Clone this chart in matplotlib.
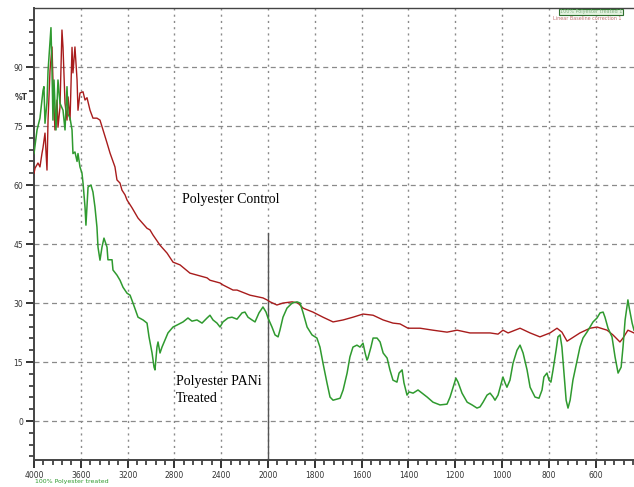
import matplotlib
matplotlib.use('Agg')
import matplotlib.pyplot as plt
import numpy as np
from matplotlib.ticker import FixedLocator, NullFormatter

# ===== 数据 (wavenumber cm-1, %T) =====
treated_wn = [4000, 3974, 3949, 3923, 3915, 3906, 3889, 3880, 3855, 3846, 3838, 3829, 3812, 3795,
              3778, 3752, 3735, 3718, 3709, 3692, 3675, 3667, 3650, 3632, 3624, 3607, 3590, 3581,
              3564, 3556, 3538, 3513, 3496, 3479, 3462, 3453, 3436, 3419, 3402, 3376, 3368, 3333,
              3325, 3291, 3265, 3239, 3205, 3179, 3154, 3111, 3068, 3034, 3017, 2991, 2974, 2966,
              2949, 2940, 2923, 2906, 2880, 2855, 2812, 2778, 2726, 2684, 2650, 2607, 2564, 2521,
              2496, 2470, 2436, 2410, 2385, 2342, 2308, 2265, 2222, 2197, 2171, 2137, 2111, 2077,
              2043, 2017, 2000, 1983, 1970, 1957, 1949, 1936, 1919, 1897, 1876, 1863, 1850, 1833,
              1812, 1791, 1778, 1765, 1748, 1735, 1722, 1692, 1679, 1662, 1650, 1637, 1620, 1607,
              1594, 1585, 1577, 1573, 1560, 1551, 1534, 1521, 1508, 1491, 1479, 1466, 1449, 1440,
              1427, 1419, 1406, 1397, 1380, 1359, 1342, 1320, 1295, 1265, 1235, 1222, 1209, 1197,
              1188, 1171, 1149, 1128, 1107, 1094, 1081, 1064, 1051, 1038, 1030, 1017, 1000, 996,
              987, 979, 966, 953, 936, 923, 910, 893, 880, 859, 842, 829, 821, 808, 799, 791, 782,
              769, 761, 752, 744, 735, 726, 718, 709, 697, 679, 667, 654, 637, 624, 611, 594, 581,
              568, 560, 547, 530, 517, 504, 491, 483, 474, 462, 457, 444, 436]
treated_t = [68, 74, 77, 84, 85, 75.7, 81, 89, 100, 89, 76.5, 86.7, 74, 86.7,
             80.8, 79, 74, 85, 78, 77, 74, 68, 68.4, 66, 68, 64.6, 63, 60.5,
             54.4, 49.8, 59.5, 60, 58.2, 54.4, 49.3, 44.2, 40.9, 44.2, 46.5, 44.2, 41, 41,
             38.4, 37.1, 35.8, 34, 32.5, 32, 30, 26.4, 25.7, 24.9, 21.4, 17.3, 13.7, 13,
             18.8, 20.1, 17.3, 18.8, 20.6, 22.4, 23.9, 24.4, 25.2, 26.2, 25.4, 25.7, 24.9, 26.2,
             26.9, 25.7, 24.9, 23.9, 25.2, 26.2, 26.4, 25.9, 27.5, 27.7, 26.4, 25.7, 25.2, 27.5,
             29, 27.7, 26.2, 23.9, 21.9, 21.4, 23.1, 26.4, 28.7, 30, 30.3, 30, 27.5, 23.9,
             21.9, 21.1, 18.8, 14.7, 9.7, 6.1, 5.3, 5.8, 7.9, 12.2, 16.3, 18.8, 19.3, 18.8,
             19.8, 17.3, 15.5, 16, 18.8, 21.1, 21.1, 20.1, 17.3, 16, 13, 10.4, 9.9, 12.2,
             13, 9.7, 6.6, 7.4, 7.1, 7.9, 7.1, 6.1, 4.8, 4.1, 4.3, 6.1, 8.6, 10.9,
             9.9, 7.1, 4.8, 4.1, 3.3, 3.6, 4.8, 6.6, 7.1, 6.1, 5.3, 6.6, 10.4, 11.2,
             9.7, 8.6, 10.4, 14.7, 18, 19.3, 17.3, 13, 8.6, 6.1, 5.8, 7.9, 11.2, 12.2, 10.4, 9.9, 13,
             18, 21.4, 21.9, 18.8, 12.2, 5.3, 3.3, 5.3, 10.4, 15.5, 18.8, 21.1, 22.6, 23.9, 25.2, 26.2, 27.5,
             27.7, 26.4, 23.6, 21.4, 16.3, 12.2, 13.7, 18.8, 25.7, 30.8, 29, 24.9, 23.1]

control_wn = [4000, 3991, 3966, 3949, 3932, 3923, 3906, 3889, 3880, 3863, 3846, 3838, 3821, 3803,
              3795, 3778, 3761, 3752, 3735, 3718, 3709, 3692, 3675, 3667, 3650, 3632, 3624, 3607,
              3581, 3564, 3547, 3521, 3496, 3462, 3436, 3410, 3376, 3350, 3308, 3291, 3265, 3248,
              3222, 3205, 3162, 3111, 3034, 3009, 2983, 2923, 2863, 2812, 2752, 2667, 2521, 2496,
              2410, 2385, 2299, 2265, 2154, 2043, 2009, 1991, 1962, 1936, 1897, 1872, 1850, 1808,
              1765, 1722, 1679, 1637, 1594, 1551, 1508, 1466, 1436, 1402, 1350, 1295, 1235, 1192,
              1137, 1081, 1051, 1017, 996, 974, 923, 880, 838, 795, 765, 744, 722, 701, 667, 624,
              594, 551, 526, 496, 483, 462, 436]
control_t = [63, 64.3, 65.6, 64.6, 68, 69.5, 73.2, 63.8, 76.5, 89.2, 95.1, 86.7, 74, 81.6,
             74.7, 79.8, 99.4, 95, 80.8, 76.5, 82.4, 76.5, 95, 88.5, 95.1, 86.7, 79, 83.4,
             83.7, 81.6, 82.2, 79, 77, 77, 76.5, 74, 70.7, 68.1, 64.6, 61.3, 60.5, 58.7,
             57.5, 56.2, 54.2, 51.6, 49, 48.6, 47.3, 44.7, 42.7, 40.4, 39.7, 37.6, 36.4, 35.8,
             35.1, 34.6, 33.3, 33.3, 32, 31.3, 30.8, 30.3, 29.5, 30, 30.3, 30, 28.7, 27.7,
             26.4, 25.2, 25.7, 26.4, 27.2, 26.9, 25.7, 24.9, 24.7, 23.6, 23.6, 23.1, 22.6, 23.1,
             22.4, 22.4, 22.4, 22.1, 23.1, 22.4, 23.6, 22.4, 21.4, 22.4, 23.6, 22.6, 20.3, 21.1, 22.4, 23.6,
             23.9, 23.1, 21.9, 20.1, 21.1, 23.1, 22.4]

x_major = [4000, 3600, 3200, 2800, 2400, 2000, 1800, 1600, 1400, 1200, 1000, 800, 600]
y_major = [0, 15, 30, 45, 60, 75, 90]

GREEN = '#2f9a2f'
RED = '#a81c1c'
GRID_C = '#8a8a8a'


# FTIR x-axis: half scale above 2000 cm-1
def fwd(w):
    w = np.asarray(w, dtype=float)
    return np.where(w >= 2000, (w - 4000) / 400.0, (w - 2000) / 200.0 - 5)


def inv(p):
    p = np.asarray(p, dtype=float)
    return np.where(p >= -5, p * 400.0 + 4000, (p + 5) * 200.0 + 2000)


fig = plt.figure(figsize=(6.34, 4.87), dpi=100)
ax = fig.add_axes([34 / 634, 27 / 487, 1 - 34 / 634, (460 - 8) / 487])
ax.set_xscale('function', functions=(fwd, inv))
ax.set_xlim(4000, 436)
ax.set_ylim(-9.9, 105)

# grid
for w in x_major[1:]:
    ax.axvline(w, color=GRID_C, lw=1.0, ls=(0, (1.5, 3)), zorder=1)
for v in y_major:
    ax.axhline(v, color=GRID_C, lw=0.9, ls=(0, (4, 3)), zorder=1)
ax.plot([2000, 2000], [-9.9, 47.8], color='#555555', lw=1.0, zorder=2)

ax.plot(control_wn, control_t, color=RED, lw=1.0, zorder=3)
ax.plot(treated_wn, treated_t, color=GREEN, lw=1.1, zorder=4)

# ticks
ax.xaxis.set_major_locator(FixedLocator(x_major))
minors = list(np.arange(4000, 2000, -80)) + list(np.arange(2000, 430, -40))
ax.xaxis.set_minor_locator(FixedLocator(minors))
ax.xaxis.set_minor_formatter(NullFormatter())
ax.set_xticklabels([str(t) for t in x_major], fontsize=5.5, color='#333333')
ax.yaxis.set_major_locator(FixedLocator(y_major))
ax.yaxis.set_minor_locator(FixedLocator(np.arange(-9, 105, 3)))
ax.set_yticklabels([str(t) for t in y_major], fontsize=5.5, color='#333333')
ax.tick_params(axis='both', which='major', direction='out', length=6, width=1.4, color='#333333', pad=2)
ax.tick_params(axis='both', which='minor', direction='out', length=3.5, width=1.2, color='#333333')

for s in ['right']:
    ax.spines[s].set_visible(False)
ax.spines['left'].set_linewidth(1.4)
ax.spines['bottom'].set_linewidth(1.4)
ax.spines['top'].set_linewidth(1.0)
for s in ['left', 'bottom', 'top']:
    ax.spines[s].set_color('#444444')

fig.text(15 / 634, 1 - 97 / 487, '%T', fontsize=5.5, fontweight='bold', color='#333333',
         ha='left', va='center')

# annotations
serif = ['Liberation Serif', 'DejaVu Serif']
fig.text(182 / 634, 1 - 199 / 487, 'Polyester Control', fontsize=10, family=serif,
         ha='left', va='center')
fig.text(176 / 634, 1 - 390 / 487, 'Polyester PANi\nTreated', fontsize=10, family=serif,
         ha='left', va='center', linespacing=1.3)

fig.text(35 / 634, 1 - 482 / 487, '100% Polyester treated', fontsize=4.5, color=GREEN,
         ha='left', va='center')

# legend box top right
fig.text(560 / 634, 1 - 12 / 487, '100% Polyester treated 1', fontsize=3.5, color='#7fb07f',
         ha='left', va='center',
         bbox=dict(boxstyle='square,pad=0.15', fc='#e4f2e0', ec='#2f6f2f', lw=0.8))
fig.text(553 / 634, 1 - 19 / 487, 'Linear Baseline correction 1', fontsize=3.5, color='#c07070',
         ha='left', va='center')

fig.savefig('out.png', dpi=100, facecolor='white')
